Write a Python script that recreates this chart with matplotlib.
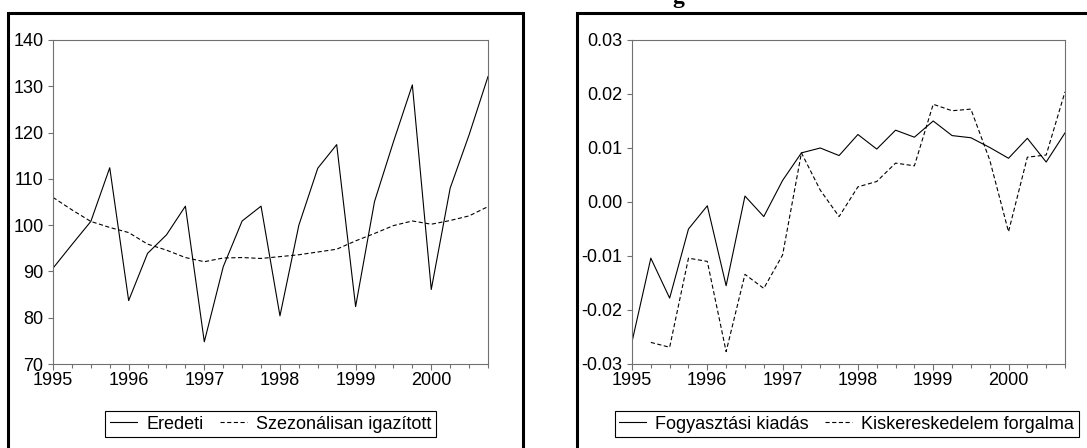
import matplotlib
matplotlib.use("Agg")
import matplotlib.pyplot as plt
import numpy as np
from matplotlib.lines import Line2D
from matplotlib.ticker import MultipleLocator, FuncFormatter

plt.rcParams['font.family'] = ['Liberation Sans', 'DejaVu Sans']
plt.rcParams['lines.scale_dashes'] = False

# Quarterly data 1995Q1 - 2000Q4
years = [1995, 1996, 1997, 1998, 1999, 2000]
quarters = [1, 2, 3, 4]
year_labels = ["1995", "1996", "1997", "1998", "1999", "2000"]

eredeti = [90.7, 95.8, 100.8, 112.4,
           83.7, 93.9, 97.9, 104.1,
           74.8, 91.0, 100.9, 104.1,
           80.4, 100.0, 112.3, 117.4,
           82.4, 105.1, 118.0, 130.3,
           86.1, 108.0, 119.5, 132.1]

szezonalisan = [106.0, 103.3, 100.8, 99.5,
                98.4, 95.9, 94.6, 93.0,
                92.1, 92.9, 93.0, 92.8,
                93.2, 93.6, 94.2, 94.8,
                96.6, 98.2, 99.9, 100.9,
                100.2, 101.0, 102.0, 104.0]

fogyasztasi = [-0.0259, -0.0104, -0.0178, -0.0050,
               -0.0007, -0.0155, 0.0011, -0.0027,
               0.0040, 0.0091, 0.0100, 0.0086,
               0.0125, 0.0098, 0.0133, 0.0120,
               0.0150, 0.0123, 0.0119, 0.0101,
               0.0081, 0.0118, 0.0074, 0.0128]

kiskereskedelem = [np.nan, -0.0260, -0.0269, -0.0104,
                   -0.0110, -0.0277, -0.0134, -0.0160,
                   -0.0098, 0.0091, 0.0022, -0.0027,
                   0.0028, 0.0038, 0.0072, 0.0067,
                   0.0181, 0.0169, 0.0172, 0.0078,
                   -0.0055, 0.0083, 0.0087, 0.0204]

labels_left = ["Eredeti", "Szezonálisan igazított"]
labels_right = ["Fogyasztási kiadás", "Kiskereskedelem forgalma"]

x = [y + (q - 1) / 4 for y in years for q in quarters]

W, H = 1087, 448
fig = plt.figure(figsize=(W / 100, H / 100), dpi=100)

def px_rect(x0, y0, x1, y1):
    return [x0 / W, 1 - y1 / H, (x1 - x0) / W, (y1 - y0) / H]

spine_col = "#707070"
FS = 13

def style_axes(ax):
    ax.set_xlim(1995, 2000.75)
    ax.xaxis.set_minor_locator(MultipleLocator(0.25))
    ax.set_xticks(years)
    ax.set_xticklabels(year_labels)
    for s in ax.spines.values():
        s.set_color(spine_col)
        s.set_linewidth(0.8)
    ax.tick_params(axis='x', which='major', direction='out', length=4.3, width=0.8,
                   color=spine_col, labelsize=FS, pad=1.2, top=False)
    ax.tick_params(axis='x', which='minor', direction='out', length=2.9, width=0.8,
                   color=spine_col, top=False)
    ax.tick_params(axis='y', which='major', direction='out', length=3.6, width=0.8,
                   color=spine_col, labelsize=FS, pad=3.2, right=False)

# Left panel
ax1 = fig.add_axes(px_rect(53, 40, 488, 364))
l1, = ax1.plot(x, eredeti, color='black', lw=0.8)
l2, = ax1.plot(x, szezonalisan, color='black', lw=0.8, dashes=(3, 1.8))
ax1.set_ylim(70, 140)
ax1.yaxis.set_major_locator(MultipleLocator(10))
style_axes(ax1)

# Right panel
ax2 = fig.add_axes(px_rect(632, 40, 1065, 364))
r1, = ax2.plot(x, fogyasztasi, color='black', lw=0.8)
r2, = ax2.plot(x, kiskereskedelem, color='black', lw=0.8, dashes=(3, 1.8))
ax2.set_ylim(-0.03, 0.03)
ax2.set_yticks([-0.03, -0.02, -0.01, 0.0, 0.01, 0.02, 0.03])
ax2.yaxis.set_major_formatter(FuncFormatter(lambda v, p: f"{round(v, 2) + 0.0:.2f}"))
style_axes(ax2)

leg_kw = dict(loc='center', ncol=2, fontsize=FS, frameon=True, fancybox=False,
              edgecolor='black', framealpha=1, handlelength=1.5, handletextpad=0.5,
              columnspacing=0.9, borderpad=0.25, borderaxespad=0)
lg1 = fig.legend([l1, l2], labels_left, bbox_to_anchor=(270.5 / W, 1 - 424 / H), **leg_kw)
lg1.get_frame().set_linewidth(0.8)
lg2 = fig.legend([r1, r2], labels_right, bbox_to_anchor=(846.5 / W, 1 - 424 / H), **leg_kw)
lg2.get_frame().set_linewidth(0.8)

# Outer panel frames (bottom edges run off the picture)
def fline(xs, ys):
    fig.add_artist(Line2D([v / W for v in xs], [1 - v / H for v in ys],
                          color='black', lw=2.2, solid_joinstyle='miter',
                          transform=fig.transFigure))

fline([8, 8, 523, 523], [460, 13.5, 13.5, 460])
fline([576.5, 576.5, 1100], [460, 13.5, 13.5])

# Bottom of the cut-off bold title above the right panel (cut off in the reference too)
fig.text(678 / W, 1 - 3 / H, "g", fontsize=17, fontweight='bold',
         family=['Liberation Serif', 'DejaVu Serif'], ha='center', va='baseline')

fig.savefig("out.png", dpi=100)
